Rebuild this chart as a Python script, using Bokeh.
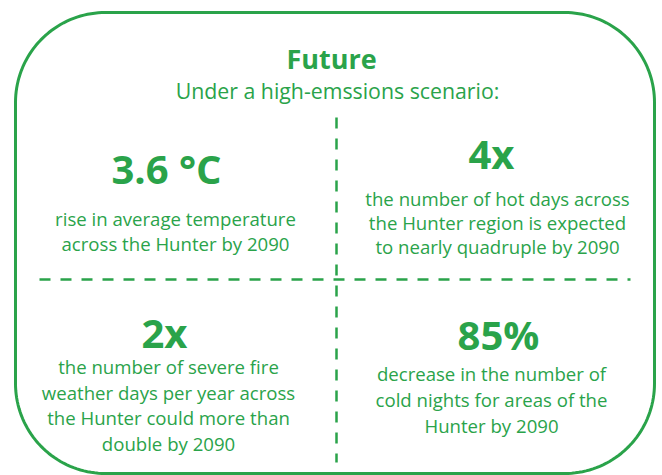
from bokeh.plotting import figure
from bokeh.models import Range1d
from bokeh.core.properties import value
from bokeh.embed import file_html
from bokeh.resources import INLINE
import numpy as np

GREEN = "#2aa34a"
FONT = "Open Sans"

title = "Future"
subtitle = "Under a high-emssions scenario:"

headline_values = ["3.6 °C", "4x", "2x", "85%"]
headline_x = [166, 491, 164, 498]
headline_y = [168, 153, 332, 334]

desc_lines = [
    ["rise in average temperature", "across the Hunter by 2090"],
    ["the number of hot days across", "the Hunter region is expected", "to nearly quadruple by 2090"],
    ["the number of severe fire", "weather days per year across", "the Hunter could more than", "double by 2090"],
    ["decrease in the number of", "cold nights for areas of the", "Hunter by 2090"],
]
desc_x = [175, 497, 168, 491]
desc_first_baseline = [218, 198, 366, 373]
desc_spacing = [25, 24, 25.5, 26]

W, H = 662, 475

p = figure(width=W, height=H, output_backend="svg", toolbar_location=None,
           x_range=Range1d(0, W), y_range=Range1d(H, 0),
           min_border=0)
p.axis.visible = False
p.grid.visible = False
p.outline_line_color = None
p.background_fill_color = "white"

# rounded frame
left, right, top, bottom = 15, 654, 12, 473
r = 90
def arc(cx, cy, a0, a1):
    t = np.linspace(np.radians(a0), np.radians(a1), 40)
    return cx + r * np.cos(t), cy + r * np.sin(t)
xs, ys = [], []
for (cx, cy, a0, a1) in [(left + r, top + r, 180, 270), (right - r, top + r, 270, 360),
                          (right - r, bottom - r, 0, 90), (left + r, bottom - r, 90, 180)]:
    ax, ay = arc(cx, cy, a0, a1)
    xs.extend(ax); ys.extend(ay)
xs.append(xs[0]); ys.append(ys[0])
p.line(xs, ys, line_color=GREEN, line_width=3)

# dashed dividers
p.line([39, 630], [279, 279], line_color=GREEN, line_width=2.5, line_dash="11 10")
p.line([336, 336], [117, 462], line_color=GREEN, line_width=2.5, line_dash="11 10")

# title
p.text(x=[331], y=[58], text=[title], text_font=value(FONT), text_font_style="bold",
       text_font_size="27px", text_color=GREEN, text_align="center", text_baseline="alphabetic")
p.text(x=[337], y=[90], text=[subtitle], text_font=value(FONT),
       text_font_size="21.3px", text_color=GREEN, text_align="center", text_baseline="alphabetic")

# headlines
p.text(x=headline_x, y=headline_y, text=headline_values, text_font=value(FONT), text_font_style="bold",
       text_font_size="40px", text_color=GREEN, text_align="center", text_baseline="alphabetic")

# descriptions
dx, dy, dt = [], [], []
for i, lines in enumerate(desc_lines):
    for j, ln in enumerate(lines):
        dx.append(desc_x[i])
        dy.append(desc_first_baseline[i] + j * desc_spacing[i])
        dt.append(ln)
p.text(x=dx, y=dy, text=dt, text_font=value(FONT), text_font_size="18.6px", text_color=GREEN,
       text_align="center", text_baseline="alphabetic")

open("out.html", "w").write(file_html(p, INLINE))
